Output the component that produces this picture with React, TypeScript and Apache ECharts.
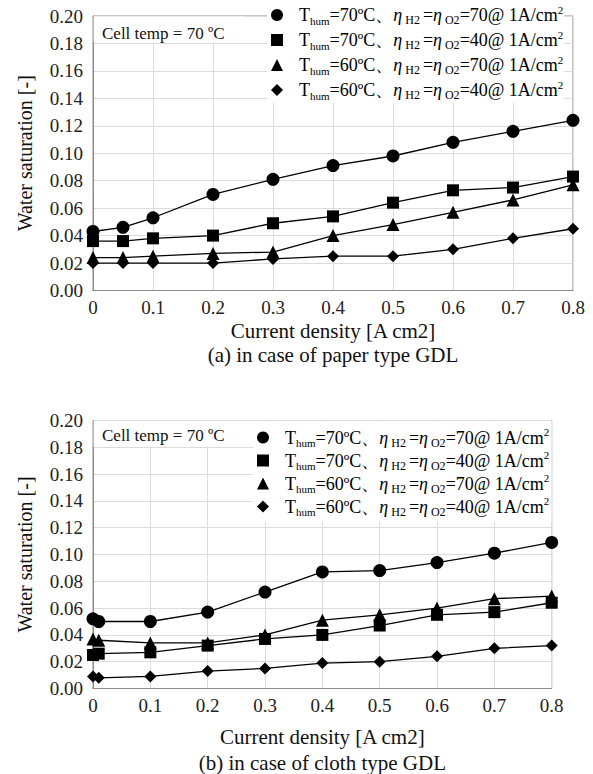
import React, { useEffect, useRef } from "react";
import * as echarts from "echarts";

// ---- data ----
const paperX = [0, 0.05, 0.1, 0.2, 0.3, 0.4, 0.5, 0.6, 0.7, 0.8];
const paperH70S70 = [0.043, 0.046, 0.053, 0.070, 0.081, 0.091, 0.098, 0.108, 0.116, 0.124];
const paperH70S40 = [0.036, 0.036, 0.038, 0.040, 0.049, 0.054, 0.064, 0.073, 0.075, 0.083];
const paperH60S70 = [0.024, 0.024, 0.025, 0.027, 0.028, 0.040, 0.048, 0.057, 0.066, 0.077];
const paperH60S40 = [0.020, 0.020, 0.020, 0.020, 0.023, 0.025, 0.025, 0.030, 0.038, 0.045];

const clothX = [0, 0.01, 0.1, 0.2, 0.3, 0.4, 0.5, 0.6, 0.7, 0.8];
const clothH70S70 = [0.052, 0.050, 0.050, 0.057, 0.072, 0.087, 0.088, 0.094, 0.101, 0.109];
const clothH70S40 = [0.025, 0.026, 0.027, 0.032, 0.037, 0.040, 0.047, 0.055, 0.057, 0.064];
const clothH60S70 = [0.037, 0.036, 0.034, 0.034, 0.040, 0.051, 0.055, 0.060, 0.067, 0.069];
const clothH60S40 = [0.009, 0.008, 0.009, 0.013, 0.015, 0.019, 0.020, 0.024, 0.030, 0.032];

const seriesNames = ["h70_s70", "h70_s40", "h60_s70", "h60_s40"];
const humTemps = ["70", "70", "60", "60"];
const stoichs = ["70", "40", "70", "40"];
const symbols = ["circle", "rect", "triangle", "diamond"];
const symbolSizes = [13, 12, 13, 12];

const yTitle = "Water saturation [-]";
const xTitle = "Current density [A cm2]";
const cellTemp = "Cell temp = 70 ºC";
const captions = ["(a) in case of paper type GDL", "(b) in case of cloth type GDL"];

const serif = "Liberation Serif";

const pair = (xs: number[], ys: number[]) => xs.map((x, i) => [x, ys[i]]);

export default function App() {
  const ref = useRef<HTMLDivElement>(null);
  useEffect(() => {
    if (!ref.current) return;
    const chart = echarts.init(ref.current, undefined, { renderer: "svg" });

    const grids = [
      { left: 93, top: 16, width: 480, height: 274.5 },
      { left: 93, top: 420.5, width: 458.7, height: 268 },
    ];
    const paper = [paperH70S70, paperH70S40, paperH60S70, paperH60S40];
    const cloth = [clothH70S70, clothH70S40, clothH60S70, clothH60S40];

    const rich: any = {
      t: { fontFamily: serif, fontSize: 18, lineHeight: 22, color: "#000", padding: [0, 0, 0, 11] },
      n: { fontFamily: serif, fontSize: 18, lineHeight: 22, color: "#000" },
      s: { fontFamily: serif, fontSize: 11, lineHeight: 10, verticalAlign: "bottom", color: "#000" },
      h: { fontFamily: serif, fontSize: 12, lineHeight: 14, verticalAlign: "bottom", color: "#000" },
      g: { fontFamily: serif, fontSize: 18, fontStyle: "italic", lineHeight: 22, color: "#000" },
      p: { fontFamily: serif, fontSize: 11, lineHeight: 10, verticalAlign: "top", color: "#000" },
    };
    const fmt = (name: string) => {
      const i = seriesNames.indexOf(name);
      return `{t|T}{s|hum}{n|=${humTemps[i]}ºC、}{g|η}{h| H2 }{n|=}{g|η}{h| O2}{n|=${stoichs[i]}@ 1A/cm}{p|2}`;
    };
    const legendData = seriesNames.map((n, i) => ({ name: n, icon: symbols[i] }));
    const legendBase = {
      orient: "vertical",
      itemWidth: 12,
      itemHeight: 12,
      symbolKeepAspect: true,
      backgroundColor: "#fff",
      data: legendData,
      formatter: fmt,
      textStyle: { rich },
      selectedMode: false,
      z: 4,
    };

    const xAxisBase = (g: number) => ({
      type: "value",
      gridIndex: g,
      min: 0,
      max: 0.8,
      interval: 0.1,
      axisLine: { show: true, lineStyle: { color: "#8c8c8c", width: 1 } },
      axisTick: { show: false },
      splitLine: { show: true, lineStyle: { color: "#dcdcdc", width: 1 } },
      axisLabel: {
        margin: 7,
        fontFamily: serif,
        fontSize: 19,
        color: "#222",
        formatter: (v: number) => (v === 0 ? "0" : v.toFixed(1)),
      },
    });
    const yAxisBase = (g: number) => ({
      type: "value",
      gridIndex: g,
      min: 0,
      max: 0.2,
      interval: 0.02,
      axisLine: { show: true, lineStyle: { color: "#8c8c8c", width: 1 } },
      axisTick: { show: false },
      splitLine: { show: true, lineStyle: { color: "#dcdcdc", width: 1 } },
      axisLabel: {
        margin: 10,
        fontFamily: serif,
        fontSize: 19,
        color: "#222",
        formatter: (v: number) => v.toFixed(2),
      },
    });

    const series: any[] = [];
    [paper, cloth].forEach((set, g) => {
      const xs = g === 0 ? paperX : clothX;
      set.forEach((ys, i) => {
        series.push({
          type: "line",
          name: seriesNames[i],
          xAxisIndex: g,
          yAxisIndex: g,
          data: pair(xs, ys),
          symbol: symbols[i],
          symbolSize: symbolSizes[i],
          color: "#000",
          itemStyle: { color: "#000" },
          lineStyle: { color: "#000", width: 1.3 },
          z: 3,
        });
      });
    });

    const textStyle = (t: string, size: number, align = "center") => ({
      text: t,
      fontFamily: serif,
      fontSize: size,
      fill: "#111",
      align,
      verticalAlign: "middle",
    });

    const graphic: any[] = [];
    const cellY = [33, 435];
    const boxTop = [16.6, 421.1];
    const ycenters = [16 + 274.5 / 2, 420.5 + 134];
    const xcenters = [93 + 240, 93 + 229.35];
    const xTitleY = [331, 737];
    const capY = [355, 763];
    [0, 1].forEach((g) => {
      graphic.push({
        type: "rect",
        z: 5,
        shape: { x: 93.6, y: boxTop[g], width: 152, height: 25.5 },
        style: { fill: "#fff" },
      });
      graphic.push({ type: "text", z: 6, x: 102, y: cellY[g], style: textStyle(cellTemp, 17, "left") });
      graphic.push({ type: "text", z: 6, x: 25, y: ycenters[g], rotation: Math.PI / 2, style: textStyle(yTitle, 20) });
      graphic.push({ type: "text", z: 6, x: xcenters[g], y: xTitleY[g], style: textStyle(xTitle, 21) });
      graphic.push({ type: "text", z: 6, x: xcenters[g], y: capY[g], style: textStyle(captions[g], 21) });
    });

    chart.setOption({
      animation: false,
      backgroundColor: "#fff",
      textStyle: { fontFamily: serif },
      grid: grids.map((g) => ({ ...g, show: true, borderColor: "#8c8c8c", borderWidth: 1, backgroundColor: "transparent" })),
      xAxis: [xAxisBase(0), xAxisBase(1)],
      yAxis: [yAxisBase(0), yAxisBase(1)],
      legend: [
        { ...legendBase, left: 267, top: 2, itemGap: 3, padding: [2, 1, 2, 4] },
        { ...legendBase, left: 253, top: 421.5, itemGap: 1, padding: [5, 2, 4, 4] },
      ],
      graphic,
      series,
    } as any);

    return () => chart.dispose();
  }, []);

  return (
    <div
      ref={ref}
      style={{ position: "fixed", left: 0, top: 0, width: 593, height: 774, background: "#fff" }}
    />
  );
}
